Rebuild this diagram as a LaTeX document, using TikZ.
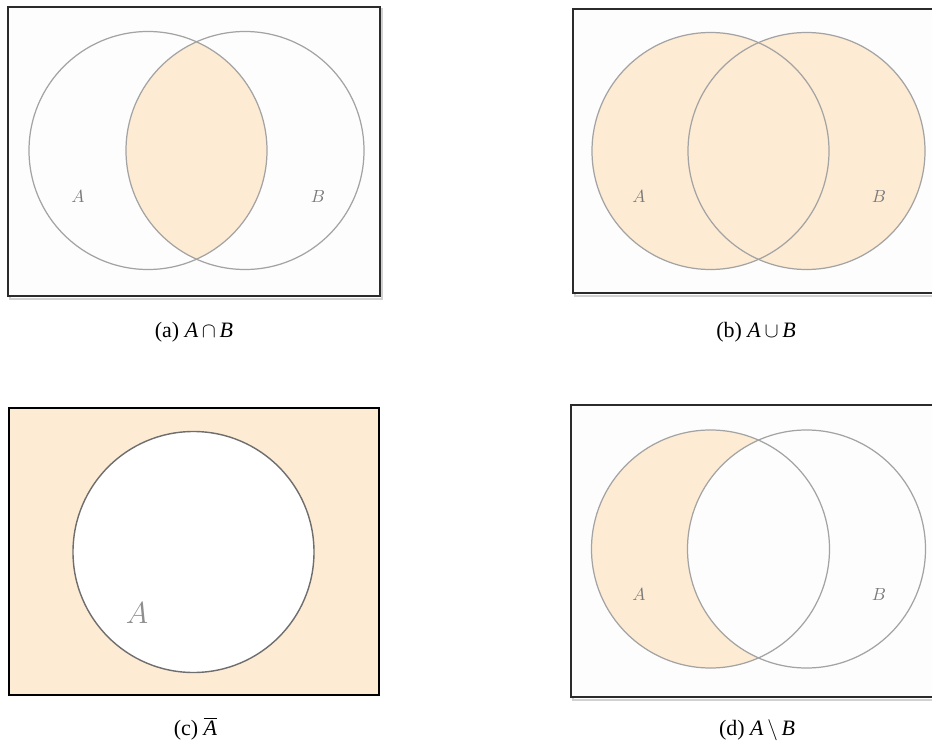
\documentclass[tikz,border=0pt]{standalone}
\usepackage{fontspec}
\setmainfont{Liberation Serif}
\usetikzlibrary{positioning}

\begin{document}
\begin{tikzpicture}[
    every node/.style={inner sep=1pt},
]

% ---------------------------------------------------------------- colours
\definecolor{c1}{HTML}{FDEBD4}   % shaded region
\definecolor{c2}{HTML}{A3A3A3}   % circle outlines
\definecolor{c3}{HTML}{6E6E6E}   % outline of the lone circle
\definecolor{c4}{HTML}{2B2B2B}   % frames
\definecolor{c5}{HTML}{FDFDFD}   % inside of the frames
\definecolor{labelcolor}{HTML}{7A7A7A}

\tikzset{
    frame/.style={draw=c4, line width=1.3pt, fill=c5},
    shadow/.style={draw=black!18, line width=1.6pt},
    setline/.style={draw=c2, line width=0.7pt},
    setname/.style={font=\normalsize, text=labelcolor},
    caption/.style={font=\fontsize{12.5}{14}\selectfont, anchor=base},
}

% ================================================================
% GEOMETRY (cm)
%   left column   frame x = 0.16 .. 7.60
%   right column  frame x = 11.44 .. 18.90 (cut by the page)
%   circles r = 2.38, centres 1.92 apart
%   top row y = 11.87, bottom row y = 3.90
% ================================================================
\useasboundingbox (0, 0) rectangle (18.64, 14.88);

% ---------------------------------------------------------------- (a) intersection
\draw[shadow] (0.20, 8.90) rectangle (7.64, 14.70);
\draw[frame]  (0.16, 8.96) rectangle (7.60, 14.74);
\begin{scope}
    \clip (2.96, 11.87) circle (2.38);
    \fill[c1] (4.90, 11.87) circle (2.38);
\end{scope}
\draw[setline] (2.96, 11.87) circle (2.38);
\draw[setline] (4.90, 11.87) circle (2.38);
\node[setname] (aA) at (1.56, 10.96) {$A$};
\node[setname] (aB) at (6.36, 10.96) {$B$};
\node[caption] (capa) at (3.88, 8.14)
    {(a) \textit{A}\,$\cap$\,\textit{B}};

% ---------------------------------------------------------------- (b) union
\draw[shadow] (11.50, 8.96) rectangle (18.94, 14.66);
\draw[frame]  (11.46, 9.02) rectangle (18.90, 14.70);
\fill[c1] (14.21, 11.86) circle (2.37);
\fill[c1] (16.13, 11.86) circle (2.37);
\draw[setline] (14.21, 11.86) circle (2.37);
\draw[setline] (16.13, 11.86) circle (2.37);
\node[setname] (bA) at (12.78, 10.96) {$A$};
\node[setname] (bB) at (17.58, 10.96) {$B$};
\node[caption] (capb) at (15.12, 8.14)
    {(b) \textit{A}\,$\cup$\,\textit{B}};

% ---------------------------------------------------------------- (c) complement
\draw[black, line width=0.7pt, fill=c1] (0.18, 0.98) rectangle (7.58, 6.72);
\draw[c3, line width=0.8pt, fill=white] (3.87, 3.84) circle (2.41);
\node[font=\fontsize{16}{18}\selectfont, text=labelcolor!85] (cA)
    at (2.74, 2.62) {$A$};
\node[caption] (capc) at (3.91, 0.18)
    {(c) $\overline{\mbox{\textit{A}}}$};

% ---------------------------------------------------------------- (d) difference
\draw[shadow] (11.46, 0.88) rectangle (18.94, 6.74);
\draw[frame]  (11.42, 0.94) rectangle (18.90, 6.78);
\begin{scope}
    \clip (14.21, 3.90) circle (2.38);
    \fill[c1, even odd rule] (11.42, 0.94) rectangle (18.90, 6.78)
        (16.13, 3.90) circle (2.38);
\end{scope}
\draw[setline] (14.21, 3.90) circle (2.38);
\draw[setline] (16.13, 3.90) circle (2.38);
\node[setname] (dA) at (12.78, 3.00) {$A$};
\node[setname] (dB) at (17.58, 3.00) {$B$};
\node[caption] (capd) at (15.14, 0.18)
    {(d) \textit{A}\,$\setminus$\,\textit{B}};

\end{tikzpicture}
\end{document}
